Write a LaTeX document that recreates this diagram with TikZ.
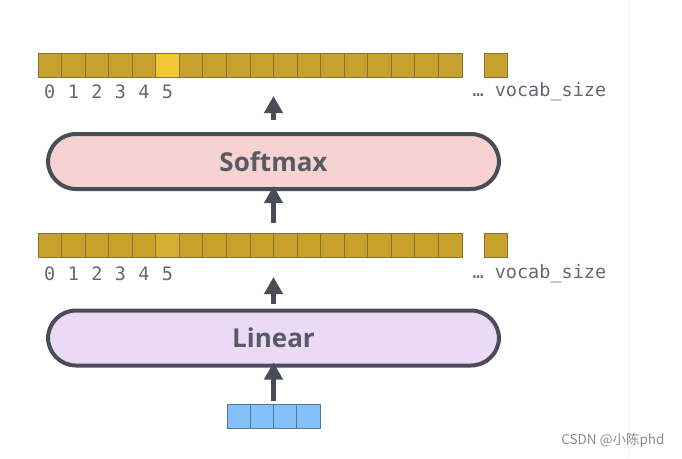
\documentclass[tikz,border=0pt]{standalone}
\usepackage{fontspec}
\setmainfont{Open Sans}
\setmonofont{DejaVu Sans Mono}
\newfontfamily\cjk{Noto Sans CJK SC}
\usetikzlibrary{arrows.meta, positioning}

\definecolor{ink}{HTML}{4A4D57}
\definecolor{gold}{HTML}{C6A12B}
\definecolor{goldline}{HTML}{8C7230}
\definecolor{goldhi}{HTML}{F2C636}
\definecolor{goldmid}{HTML}{D6AE32}
\definecolor{pinkfill}{HTML}{F6D3D1}
\definecolor{lilacfill}{HTML}{EBDAF5}
\definecolor{bluefill}{HTML}{84C0FA}
\definecolor{blueline}{HTML}{5B7790}

\tikzset{
 cell/.style = {draw=goldline, fill=gold, line width=0.8pt, minimum width=23.55pt, minimum height=24pt, inner sep=0pt, outer sep=0pt},
 vcell/.style = {draw=blueline, fill=bluefill, line width=0.8pt, minimum width=23.3pt, minimum height=24pt, inner sep=0pt, outer sep=0pt},
 layer/.style = {draw=ink, line width=4pt, rounded corners=28pt, minimum width=451pt, minimum height=55pt, font=\bfseries\fontsize{26}{30}\selectfont, text=ink!92},
 idx/.style = {font=\ttfamily\fontsize{18.5}{20}\selectfont, text=ink!85},
 arr/.style = {ink, line width=5pt, -{Triangle[width=18pt, length=17pt]}}
}

\begin{document}
\begin{tikzpicture}[x=1pt, y=-1pt]
 \useasboundingbox (0,0) rectangle (682,458);
 \draw[black!5, line width=0.8pt] (628,0) -- (628,458);

 % output probabilities
 \foreach \i in {0,...,17}
  \node[cell] (p\i) at ({49.8+23.55*\i}, 65) {};
 \node[cell, fill=goldhi] at (p5) {};
 \node[cell] (pN) at (496, 65) {};
 \foreach \i in {0,...,5}
  \node[idx] (pl\i) at ({49.8+23.55*\i}, 92) {\i};
 \node[idx, anchor=west] (pv) at (469, 92) {… vocab\_size};

 \node[layer, fill=pinkfill] (softmax) at (273.5, 161.5) {Softmax};

 % logits
 \foreach \i in {0,...,17}
  \node[cell] (q\i) at ({49.8+23.55*\i}, 245) {};
 \node[cell, fill=goldmid] at (q5) {};
 \node[cell] (qN) at (496, 245) {};
 \foreach \i in {0,...,5}
  \node[idx] (ql\i) at ({49.8+23.55*\i}, 274) {\i};
 \node[idx, anchor=west] (qv) at (469, 274) {… vocab\_size};

 \node[layer, fill=lilacfill] (linear) at (273.5, 338) {Linear};

 % decoder output vector
 \foreach \i in {0,...,3}
  \node[vcell] (v\i) at ({238.6+23.3*\i}, 416) {};

 \draw[arr, shorten <=12pt, shorten >=19pt] (softmax.north) -- (softmax.north |- p0.south);
 \draw[arr, shorten <=10pt, shorten >=-5pt] (softmax.north |- q0.north) -- (softmax.south);
 \draw[arr, shorten <=5pt, shorten >=20pt] (linear.north) -- (linear.north |- q0.south);
 \draw[arr, shorten <=3pt, shorten >=-5pt] (linear.north |- v0.north) -- (linear.south);

 \node[font=\cjk\fontsize{13.5}{15}\selectfont, text=black!45, anchor=east] (mark) at (668, 440) {CSDN @小陈phd};
\end{tikzpicture}
\end{document}
